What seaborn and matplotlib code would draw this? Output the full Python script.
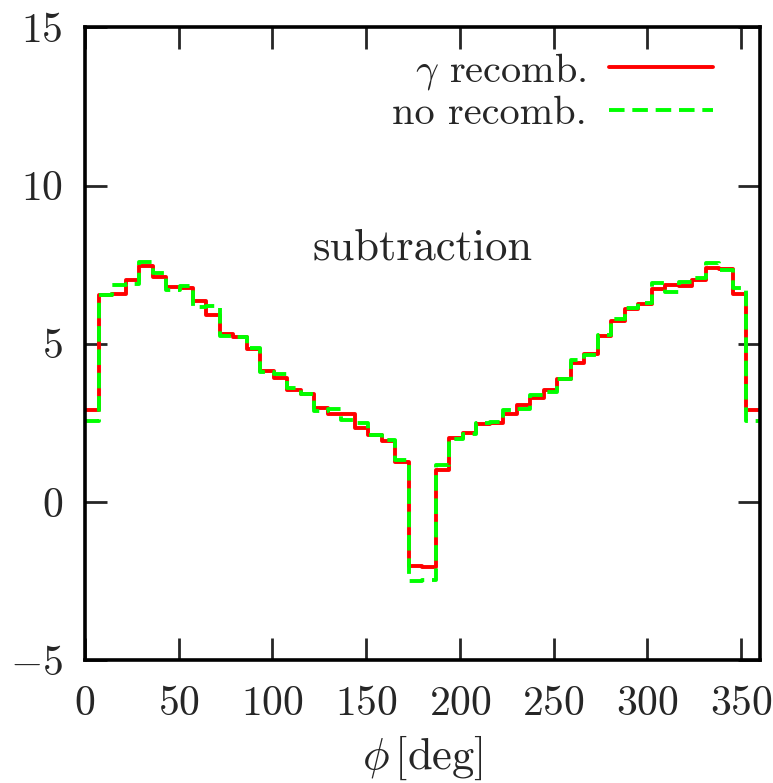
import numpy as np
import matplotlib
matplotlib.use("Agg")
import matplotlib.pyplot as plt
import pandas as pd
import seaborn as sns

# phi histogram, 50 bins of 7.2 deg over [0, 360]
bin_width = 7.2
n_bins = 50

gamma_recomb = [2.92, 6.53, 6.56, 7.02, 7.46, 7.11, 6.79, 6.77, 6.35, 5.90,
                5.32, 5.21, 4.82, 4.14, 3.93, 3.53, 3.40, 2.98, 2.77, 2.77,
                2.33, 2.10, 1.91, 1.27, -2.04, -2.07, 1.00, 2.03, 2.17, 2.45,
                2.51, 2.77, 3.05, 3.28, 3.53, 3.90, 4.40, 4.67, 5.24, 5.71,
                6.09, 6.25, 6.73, 6.87, 6.82, 7.00, 7.41, 7.36, 6.56, 2.91]

no_recomb = [2.55, 6.53, 6.85, 6.88, 7.58, 7.25, 6.71, 6.81, 6.16, 6.19,
             5.24, 5.21, 4.88, 4.12, 4.03, 3.59, 3.40, 2.88, 2.93, 2.59,
             2.51, 2.10, 1.96, 1.33, -2.50, -2.48, 1.16, 1.98, 2.16, 2.48,
             2.54, 2.91, 2.95, 3.38, 3.49, 3.90, 4.48, 4.64, 5.28, 5.79,
             6.12, 6.29, 6.92, 6.65, 6.95, 7.09, 7.56, 7.33, 6.76, 2.56]

series_names = [r"$\gamma$ recomb.", "no recomb."]
xticks = [0, 50, 100, 150, 200, 250, 300, 350]
yticks = [-5, 0, 5, 10, 15]


def to_long(name, values):
    edges = np.arange(n_bins + 1) * bin_width
    vals = list(values) + [values[-1]]  # repeat last so steps-post closes the bin
    return pd.DataFrame({"phi": edges, "value": vals, "series": name})


df = pd.concat([to_long(series_names[0], gamma_recomb),
                to_long(series_names[1], no_recomb)], ignore_index=True)

sns.set_style("white")
plt.rcParams["font.family"] = ["cmr10", "DejaVu Serif"]
plt.rcParams["mathtext.fontset"] = "cm"
plt.rcParams["axes.formatter.use_mathtext"] = True

fig = plt.figure(figsize=(7.73, 7.83), dpi=100)
ax = fig.add_axes([0.110, 0.157, 0.873, 0.808])

sns.lineplot(data=df, x="phi", y="value", hue="series", style="series",
             palette={series_names[0]: "#ff0000", series_names[1]: "#00ff00"},
             dashes={series_names[0]: "", series_names[1]: (4, 2)},
             drawstyle="steps-post", estimator=None, linewidth=2.8,
             legend=False, ax=ax)

ax.set_xlim(0, 360)
ax.set_ylim(-5, 15)
ax.set_xticks(xticks)
ax.set_xticklabels([f"${v}$" for v in xticks])
ax.set_yticks(yticks)
ax.set_yticklabels([f"${v}$" for v in yticks])
ax.tick_params(direction="in", length=16, width=2, labelsize=30,
               top=True, right=True, bottom=True, left=True)
ax.tick_params(axis="x", pad=18)
ax.tick_params(axis="y", pad=16)
for s in ax.spines.values():
    s.set_linewidth(2.6)
    s.set_color("black")

ax.set_xlabel(r"$\phi\,[\mathrm{deg}]$", fontsize=32, labelpad=8)
ax.set_ylabel("")

ax.text(180, 8, "subtraction", fontsize=32, ha="center", va="center")

handles = ax.get_lines()[:2]
ax.legend(handles, series_names, loc="upper right", frameon=False,
          markerfirst=False, fontsize=29, handlelength=2.6,
          handletextpad=0.55, labelspacing=0.1, borderaxespad=0.5,
          bbox_to_anchor=(0.985, 1.02))

fig.savefig("out.png", dpi=100)
